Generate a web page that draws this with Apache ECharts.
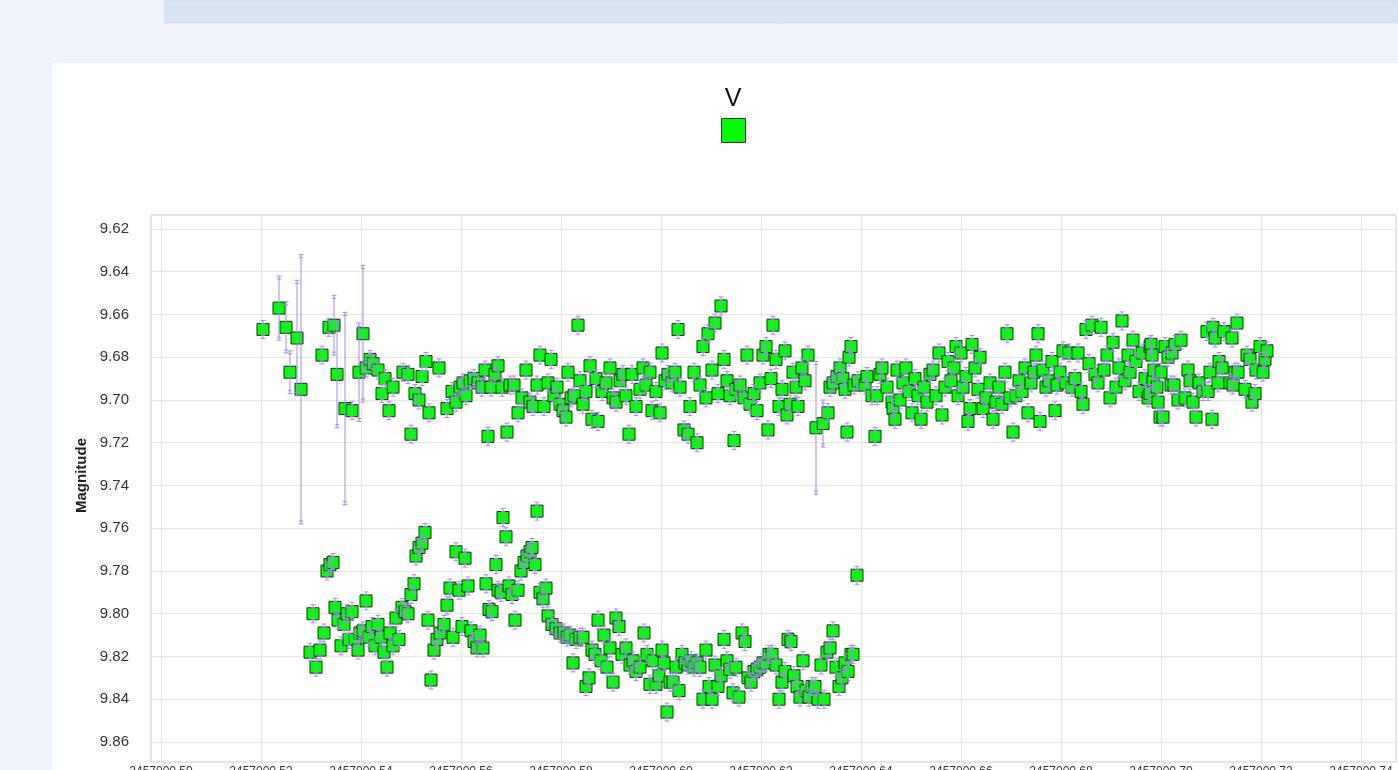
<!DOCTYPE html>
<html><head><meta charset="utf-8">
<script src="https://cdn.jsdelivr.net/npm/echarts@6/dist/echarts.min.js"></script>
<style>html,body{margin:0;padding:0;background:#eff3fb;overflow:hidden}#c{width:1398px;height:770px}</style>
</head><body><div id="c"></div>
<script>
const jdBase = 2457000;
const xTicks = [0.50,0.52,0.54,0.56,0.58,0.60,0.62,0.64,0.66,0.68,0.70,0.72,0.74];
const yTicks = [9.62,9.64,9.66,9.68,9.70,9.72,9.74,9.76,9.78,9.80,9.82,9.84,9.86];
const typicalError = 0.0042;
// [JD - 2457000, magnitude, error (optional)]
const upperBand = [
[0.5204,9.667],[0.5236,9.657,0.015],[0.5250,9.666,0.012],[0.5258,9.687,0.010],[0.5272,9.671,0.027],[0.5280,9.695,0.063],
[0.5322,9.679],[0.5336,9.666],[0.5346,9.665,0.014],[0.5352,9.688,0.025],[0.5368,9.704,0.045],[0.5382,9.705],[0.5396,9.687,0.023],[0.5404,9.669,0.032],
[0.5410,9.685],[0.5418,9.681],[0.5424,9.683],[0.5434,9.686],[0.5442,9.697],[0.5448,9.690],[0.5456,9.705],[0.5464,9.694],[0.5484,9.687],[0.5494,9.688],
[0.5500,9.716],[0.5508,9.697],[0.5516,9.700],[0.5522,9.689],[0.5530,9.682],[0.5536,9.706],[0.5556,9.685],[0.5572,9.704],[0.5582,9.696],[0.5590,9.701],
[0.5598,9.694],[0.5604,9.692],[0.5610,9.698],[0.5618,9.691],[0.5626,9.690],[0.5634,9.692],[0.5642,9.694],[0.5648,9.686],[0.5654,9.717],[0.5660,9.694],
[0.5668,9.688],[0.5674,9.684],[0.5682,9.694],[0.5692,9.715],[0.5698,9.693],[0.5706,9.693],[0.5714,9.706],[0.5722,9.699],[0.5730,9.686],[0.5738,9.701],
[0.5744,9.703],[0.5752,9.693],[0.5758,9.679],[0.5766,9.703],[0.5774,9.692],[0.5780,9.681],[0.5786,9.698],[0.5792,9.694],[0.5798,9.702],
[0.5804,9.705],[0.5810,9.708],[0.5814,9.687],[0.5820,9.699],[0.5826,9.698],[0.5834,9.665],[0.5838,9.691],[0.5844,9.702],[0.5850,9.696],[0.5858,9.684],
[0.5862,9.709],[0.5870,9.690],[0.5874,9.710],[0.5882,9.696],[0.5890,9.692],[0.5898,9.685],[0.5904,9.699],[0.5910,9.701],[0.5918,9.691],[0.5924,9.688],
[0.5930,9.698],[0.5936,9.716],[0.5942,9.688],[0.5950,9.703],[0.5958,9.695],[0.5964,9.685],[0.5970,9.693],[0.5978,9.687],[0.5982,9.705],[0.5990,9.696],[0.5998,9.706],
[0.6002,9.678],[0.6008,9.691],[0.6014,9.688],[0.6022,9.692],[0.6028,9.687],[0.6034,9.667],[0.6038,9.694],[0.6046,9.714],[0.6054,9.716],[0.6058,9.703],
[0.6066,9.687],[0.6072,9.720],[0.6078,9.693],[0.6084,9.675],[0.6090,9.699],[0.6094,9.669],[0.6102,9.686],[0.6108,9.664],[0.6114,9.697],[0.6120,9.656],
[0.6126,9.681],[0.6132,9.691],[0.6138,9.698],[0.6146,9.719],[0.6150,9.695],[0.6158,9.693],[0.6166,9.699],[0.6172,9.679],[0.6178,9.702],[0.6186,9.697],[0.6192,9.705],[0.6198,9.692],
[0.6204,9.679],[0.6210,9.675],[0.6214,9.714],[0.6220,9.690],[0.6224,9.665],[0.6230,9.681],[0.6236,9.703],[0.6242,9.695],[0.6248,9.677],[0.6252,9.707],
[0.6258,9.702],[0.6264,9.687],[0.6270,9.694],[0.6274,9.703],[0.6282,9.685],[0.6288,9.691],[0.6294,9.679],[0.6310,9.713,0.031],[0.6324,9.711,0.011],
[0.6334,9.706],[0.6338,9.694],[0.6344,9.692],[0.6352,9.689],[0.6358,9.685],[0.6364,9.690],[0.6368,9.695],[0.6372,9.715],[0.6376,9.680],[0.6380,9.675],[0.6386,9.693],[0.6394,9.691],
[0.6408,9.693],[0.6412,9.689],[0.6422,9.698],[0.6428,9.717],[0.6432,9.698],[0.6438,9.688],[0.6442,9.685],[0.6452,9.694],[0.6462,9.701],[0.6464,9.704],[0.6468,9.709],[0.6472,9.686],
[0.6478,9.700],[0.6484,9.692],[0.6490,9.685],[0.6496,9.696],[0.6502,9.706],[0.6508,9.690],[0.6514,9.698],[0.6520,9.709],[0.6526,9.694],[0.6532,9.701],[0.6538,9.688],
[0.6544,9.686],[0.6550,9.698],[0.6556,9.678],[0.6562,9.707],[0.6568,9.694],[0.6574,9.682],[0.6580,9.691],[0.6586,9.685],[0.6590,9.675],[0.6594,9.698],
[0.6600,9.678],[0.6604,9.694],[0.6610,9.689],[0.6614,9.710],[0.6618,9.704],[0.6622,9.674],[0.6628,9.685],[0.6634,9.695],[0.6638,9.680],[0.6644,9.704],[0.6650,9.699],
[0.6658,9.692],[0.6664,9.709],[0.6670,9.701],[0.6676,9.694],[0.6682,9.702],[0.6688,9.687],[0.6692,9.669],[0.6698,9.699],[0.6704,9.715],[0.6710,9.698],[0.6716,9.691],
[0.6722,9.696],[0.6728,9.685],[0.6734,9.706],[0.6740,9.692],[0.6746,9.687],[0.6750,9.679],[0.6754,9.669],[0.6758,9.710],[0.6764,9.686],[0.6770,9.694],[0.6776,9.691],
[0.6782,9.682],[0.6788,9.705],[0.6792,9.693],[0.6798,9.687],
[0.6804,9.677],[0.6810,9.692],[0.6816,9.678],[0.6822,9.694],[0.6828,9.690],[0.6834,9.678],[0.6840,9.696],[0.6844,9.702],[0.6850,9.667],[0.6856,9.683],
[0.6862,9.665],[0.6868,9.688],[0.6874,9.692],[0.6880,9.666],[0.6886,9.686],[0.6892,9.679],[0.6898,9.699],[0.6904,9.673],[0.6910,9.694],[0.6916,9.685],
[0.6922,9.663],[0.6928,9.691],[0.6934,9.679],[0.6938,9.687],[0.6944,9.672],[0.6950,9.682],[0.6956,9.696],[0.6962,9.678],[0.6968,9.690],[0.6974,9.699],
[0.6978,9.675],[0.6980,9.674],[0.6982,9.679],[0.6984,9.691],[0.6978,9.697],[0.6986,9.686],[0.6992,9.694],[0.6994,9.701],[0.6998,9.708],
[0.7000,9.687],[0.7004,9.708],[0.7008,9.675],[0.7014,9.680],[0.7020,9.693],[0.7022,9.678],[0.7026,9.693],[0.7028,9.674],[0.7034,9.700],[0.7040,9.672],
[0.7048,9.699],[0.7054,9.686],[0.7058,9.691],[0.7064,9.701],[0.7070,9.708],[0.7076,9.692],[0.7084,9.696],[0.7092,9.668],[0.7094,9.696],[0.7098,9.687],
[0.7102,9.709],[0.7104,9.666],[0.7108,9.671],[0.7114,9.692],[0.7116,9.682],[0.7122,9.685],[0.7126,9.668],[0.7138,9.692],[0.7142,9.671],[0.7144,9.693],
[0.7148,9.687],[0.7152,9.664],[0.7154,9.687],[0.7168,9.695],[0.7172,9.679],[0.7178,9.681],[0.7182,9.701],[0.7188,9.697],[0.7190,9.686],[0.7198,9.675],
[0.7204,9.687],[0.7208,9.681],[0.7212,9.677]
];
const lowerBand = [
[0.5298,9.818],[0.5304,9.800],[0.5310,9.825],[0.5318,9.817],[0.5326,9.809],[0.5332,9.780],[0.5338,9.777],[0.5344,9.776],[0.5348,9.797],[0.5354,9.803],
[0.5360,9.815],[0.5366,9.805],[0.5372,9.800],[0.5376,9.812],[0.5382,9.799],[0.5388,9.812],[0.5394,9.817],[0.5398,9.809],[0.5404,9.808],[0.5410,9.794],
[0.5416,9.811],[0.5422,9.806],[0.5428,9.815],[0.5434,9.805],[0.5440,9.811],[0.5446,9.818],[0.5452,9.825],[0.5458,9.809],[0.5464,9.815],[0.5470,9.802],
[0.5476,9.812],[0.5482,9.797],[0.5488,9.799],[0.5494,9.800],[0.5500,9.791],[0.5506,9.786],[0.5510,9.773],[0.5516,9.769],[0.5522,9.767],[0.5528,9.762],
[0.5534,9.803],[0.5540,9.831],[0.5546,9.817],[0.5552,9.812],[0.5558,9.809],[0.5566,9.805],[0.5572,9.796],[0.5578,9.788],[0.5584,9.811],[0.5590,9.771],
[0.5596,9.789],[0.5602,9.806],[0.5608,9.774],[0.5614,9.787],[0.5620,9.808],[0.5626,9.813],[0.5632,9.816],[0.5638,9.810],[0.5644,9.816],[0.5650,9.786],
[0.5656,9.798],[0.5662,9.799],[0.5670,9.777],[0.5674,9.789],[0.5680,9.790],[0.5684,9.755],[0.5690,9.764],[0.5696,9.787],[0.5702,9.791],[0.5708,9.803],
[0.5714,9.789],[0.5720,9.780],[0.5726,9.776],[0.5732,9.773],[0.5738,9.771],[0.5742,9.769],[0.5748,9.777],[0.5752,9.752],[0.5758,9.790],[0.5764,9.793],
[0.5770,9.788],[0.5774,9.801],[0.5782,9.805],[0.5790,9.807],[0.5798,9.809],[0.5806,9.809],[0.5812,9.811],[0.5818,9.810],[0.5824,9.823],[0.5830,9.812],
[0.5838,9.811],[0.5844,9.811],[0.5850,9.834],[0.5856,9.830],[0.5862,9.817],[0.5868,9.819],[0.5874,9.803],[0.5880,9.822],[0.5886,9.810],[0.5892,9.825],
[0.5898,9.816],[0.5904,9.832],[0.5910,9.802],[0.5916,9.806],[0.5922,9.819],[0.5930,9.816],[0.5938,9.824],[0.5944,9.822],[0.5950,9.827],[0.5958,9.825],
[0.5966,9.809],[0.5972,9.819],[0.5978,9.833],[0.5984,9.822],[0.5990,9.833],[0.5996,9.829],[0.6002,9.817],[0.6006,9.823],[0.6012,9.846],[0.6018,9.832],
[0.6024,9.832],[0.6030,9.825],[0.6036,9.836],[0.6042,9.819],[0.6048,9.823],[0.6054,9.824],[0.6060,9.822],[0.6066,9.825],[0.6072,9.823],[0.6078,9.825],
[0.6084,9.840],[0.6090,9.817],[0.6096,9.834],[0.6102,9.840],[0.6108,9.824],[0.6114,9.834],[0.6120,9.829],[0.6126,9.812],[0.6132,9.822],[0.6138,9.826],
[0.6144,9.837],[0.6150,9.825],[0.6156,9.839],[0.6162,9.809],[0.6168,9.813],[0.6174,9.830],[0.6180,9.832],[0.6186,9.827],[0.6192,9.826],[0.6198,9.825],
[0.6204,9.823],[0.6210,9.823],[0.6216,9.819],[0.6222,9.819],[0.6230,9.824],[0.6236,9.840],[0.6242,9.832],[0.6248,9.827],[0.6254,9.812],[0.6260,9.813],
[0.6266,9.829],[0.6272,9.834],[0.6278,9.839],[0.6284,9.822],[0.6290,9.836],[0.6296,9.839],[0.6302,9.834],[0.6308,9.834],[0.6314,9.840],[0.6320,9.824],
[0.6326,9.840],[0.6332,9.818],[0.6338,9.816],[0.6344,9.808],[0.6350,9.825],[0.6356,9.834],[0.6362,9.830],[0.6368,9.823],[0.6374,9.827],[0.6380,9.819],
[0.6384,9.819],[0.6392,9.782]
];

const points = upperBand.concat(lowerBand).map(p => [p[0], p[1], p.length > 2 ? p[2] : typicalError]);
const textFont = '"Liberation Sans", Arial, sans-serif';

const chart = echarts.init(document.getElementById('c'), null, {renderer: 'canvas'});
chart.setOption({
  animation: false,
  backgroundColor: '#eff3fb',
  graphic: [
    {type: 'rect', z: -10, silent: true, shape: {x: 165, y: 0, width: 1233, height: 23}, style: {fill: '#dae3f3', stroke: '#d2dcee', lineWidth: 1}},
    {type: 'rect', z: -10, silent: true, shape: {x: 52, y: 63, width: 1346, height: 707}, style: {fill: '#ffffff'}},
    {type: 'text', z: 10, x: 733, y: 87, style: {text: 'V', align: 'center', verticalAlign: 'top', fontSize: 25, fontFamily: textFont, fill: '#111'}}
  ],
  legend: {
    left: 721, top: 118, padding: 0, itemWidth: 24, itemHeight: 24, selectedMode: false,
    formatter: () => '',
    data: [{name: 'V', icon: 'rect', itemStyle: {color: '#00ff00', borderColor: '#333', borderWidth: 1}}]
  },
  grid: {left: 151, top: 215, right: 2, bottom: 8, outerBoundsMode: 'none', containLabel: false,
    show: true, borderColor: '#cccccc', borderWidth: 1, backgroundColor: '#ffffff'},
  xAxis: {
    type: 'value', min: 0.498, max: 0.747,
    axisLine: {show: false},
    axisTick: {show: false, customValues: xTicks},
    axisLabel: {customValues: xTicks, margin: 4, fontSize: 12, color: '#333', fontFamily: textFont,
      formatter: v => (jdBase + v).toFixed(2)},
    splitLine: {show: true, lineStyle: {color: '#e6e6e6', width: 1}}
  },
  yAxis: {
    type: 'value', inverse: true, min: 9.61345, max: 9.86936,
    name: 'Magnitude', nameLocation: 'middle', nameGap: 62,
    nameTextStyle: {fontSize: 15, fontWeight: 'bold', color: '#222', fontFamily: textFont, padding: [0, 0, 0, 26]},
    axisLine: {show: false},
    axisTick: {show: false, customValues: yTicks},
    axisLabel: {customValues: yTicks, margin: 22, fontSize: 15, color: '#333', fontFamily: textFont,
      formatter: v => v.toFixed(2)},
    splitLine: {show: true, lineStyle: {color: '#e6e6e6', width: 1}}
  },
  series: [
    {
      name: 'V', type: 'scatter', symbol: 'rect', symbolSize: 12, z: 2,
      itemStyle: {color: '#00ff00', borderColor: '#1e2a1e', borderWidth: 1, opacity: 1},
      data: points.map(p => [p[0], p[1]])
    },
    {
      name: 'err', type: 'custom', z: 3, silent: true,
      renderItem: function (params, api) {
        const x = api.value(0), m = api.value(1), e = api.value(2);
        const top = api.coord([x, m - e]);
        const bot = api.coord([x, m + e]);
        const c = '#9d8ce8';
        return {
          type: 'group',
          children: [
            {type: 'line', shape: {x1: top[0], y1: top[1], x2: bot[0], y2: bot[1]}, style: {stroke: c, lineWidth: 1}},
            {type: 'line', shape: {x1: top[0] - 2.5, y1: top[1], x2: top[0] + 2.5, y2: top[1]}, style: {stroke: c, lineWidth: 1}},
            {type: 'line', shape: {x1: bot[0] - 2.5, y1: bot[1], x2: bot[0] + 2.5, y2: bot[1]}, style: {stroke: c, lineWidth: 1}},
            {type: 'line', shape: {x1: top[0] - 2, y1: top[1] + 3, x2: top[0] + 2, y2: top[1] + 3}, style: {stroke: c, lineWidth: 1}},
            {type: 'line', shape: {x1: bot[0] - 2, y1: bot[1] - 3, x2: bot[0] + 2, y2: bot[1] - 3}, style: {stroke: c, lineWidth: 1}}
          ]
        };
      },
      data: points
    }
  ]
});
</script></body></html>
